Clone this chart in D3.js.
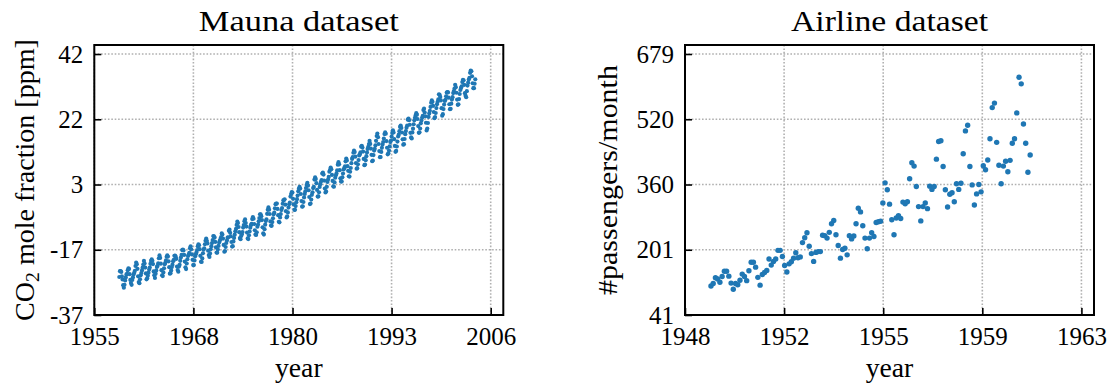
<!DOCTYPE html>
<html>
<head>
<meta charset="utf-8">
<script src="https://cdn.jsdelivr.net/npm/d3@7"></script>
<style>
  html, body { margin: 0; padding: 0; background: #fff; }
  svg text { font-family: "Liberation Serif", "DejaVu Serif", serif; fill: #000; }
</style>
</head>
<body>
<svg id="fig" width="1112" height="387"></svg>
<script>
// ---- Mauna Loa monthly mean CO2 (ppm), March 1958 .. December 2003 ----
const co2StartYear = 1958;
const co2StartMonth = 3;
const co2Monthly = [
  315.70, 317.45, 317.51, 317.24, 315.86, 314.93, 313.20, 312.43, 313.33, 314.67,
  315.58, 316.48, 316.65, 317.72, 318.29, 318.15, 316.54, 314.80, 313.84, 313.33, 314.81, 315.58,
  316.43, 316.98, 317.58, 319.03, 320.04, 319.59, 318.18, 315.90, 314.17, 313.83, 315.00, 316.19,
  316.89, 317.70, 318.54, 319.48, 320.58, 319.77, 318.57, 316.79, 314.99, 315.31, 316.10, 317.01,
  317.94, 318.55, 319.68, 320.57, 321.02, 320.62, 319.61, 317.40, 316.25, 315.42, 316.69, 317.70,
  318.74, 319.07, 319.86, 321.38, 322.25, 321.48, 319.74, 317.77, 316.21, 315.99, 317.07, 318.35,
  319.57, 320.01, 320.74, 321.84, 322.26, 321.89, 320.44, 318.69, 316.70, 316.87, 317.68, 318.71,
  319.44, 320.44, 320.89, 322.14, 322.17, 321.87, 321.21, 318.87, 317.81, 317.30, 318.87, 319.42,
  320.62, 321.59, 322.39, 323.87, 324.01, 323.75, 322.39, 320.37, 318.64, 318.10, 319.79, 321.08,
  322.07, 322.50, 323.04, 324.42, 325.00, 324.09, 322.55, 320.92, 319.31, 319.31, 320.72, 321.96,
  322.57, 323.15, 323.89, 325.02, 325.57, 325.36, 324.14, 322.11, 320.33, 320.25, 321.32, 322.90,
  324.00, 324.42, 325.64, 326.66, 327.38, 326.70, 325.89, 323.67, 322.38, 321.78, 322.85, 324.12,
  325.06, 325.98, 326.93, 328.13, 328.07, 327.66, 326.35, 324.69, 323.10, 323.07, 324.01, 325.13,
  326.17, 326.68, 327.18, 327.78, 328.92, 328.57, 327.37, 325.43, 323.36, 323.56, 324.80, 326.01,
  326.77, 327.63, 327.75, 329.72, 330.07, 329.09, 328.05, 326.32, 324.93, 325.06, 326.50, 327.55,
  328.54, 329.56, 330.30, 331.50, 332.48, 332.07, 330.87, 329.31, 327.51, 327.18, 328.16, 328.64,
  329.35, 330.71, 331.48, 332.65, 333.16, 332.06, 330.99, 329.17, 327.41, 327.20, 328.33, 329.50,
  330.68, 331.41, 331.85, 333.29, 333.91, 333.40, 331.78, 329.88, 328.57, 328.46, 329.26, 330.97,
  331.60, 332.60, 333.57, 334.72, 334.68, 334.17, 332.96, 330.80, 328.98, 328.57, 330.20, 331.58,
  332.67, 333.17, 334.86, 336.07, 336.82, 336.12, 334.81, 332.56, 331.30, 331.22, 332.37, 333.49,
  334.71, 335.23, 336.54, 337.79, 337.95, 338.00, 336.37, 334.47, 332.46, 332.29, 333.76, 334.80,
  336.00, 336.63, 337.93, 338.95, 339.05, 339.27, 337.64, 335.68, 333.77, 334.09, 335.29, 336.76,
  337.77, 338.26, 340.10, 340.88, 341.47, 341.31, 339.41, 337.74, 336.07, 336.07, 337.22, 338.38,
  339.32, 340.41, 341.69, 342.51, 343.02, 342.54, 340.88, 338.75, 337.05, 337.13, 338.45, 339.85,
  340.90, 341.70, 342.70, 343.65, 344.28, 343.42, 342.02, 339.97, 337.84, 338.00, 339.20, 340.63,
  341.41, 342.68, 343.04, 345.27, 345.92, 345.40, 344.16, 342.11, 340.11, 340.15, 341.38, 343.02,
  343.87, 344.59, 345.11, 347.07, 347.38, 346.78, 344.96, 342.55, 341.35, 341.68, 343.06, 344.54,
  345.25, 346.06, 347.66, 348.20, 348.92, 348.40, 346.66, 344.85, 343.20, 343.08, 344.40, 345.82,
  346.54, 347.13, 348.05, 349.77, 350.53, 349.90, 348.11, 345.65, 344.66, 344.70, 345.94, 347.07,
  348.33, 348.73, 349.24, 350.80, 351.66, 351.07, 349.33, 347.92, 346.27, 346.18, 347.64, 348.78,
  350.25, 351.54, 352.05, 353.41, 354.04, 353.62, 352.22, 350.27, 348.55, 348.72, 349.91, 351.18,
  352.60, 352.92, 353.53, 355.26, 355.52, 354.97, 353.75, 351.52, 349.64, 349.83, 351.14, 352.37,
  353.50, 354.55, 355.23, 356.04, 357.00, 356.07, 354.67, 352.76, 350.82, 351.04, 352.69, 354.07,
  354.59, 355.63, 357.03, 358.48, 359.22, 358.12, 356.06, 353.92, 352.05, 352.11, 353.64, 354.89,
  355.88, 356.63, 357.72, 359.07, 359.58, 359.17, 356.94, 354.92, 352.94, 353.23, 354.09, 355.33,
  356.63, 357.10, 358.32, 359.41, 360.23, 359.55, 357.53, 355.48, 353.67, 353.95, 355.30, 356.78,
  358.34, 358.89, 359.95, 361.25, 361.67, 360.94, 359.55, 357.49, 355.84, 356.00, 357.58, 359.04,
  359.97, 361.00, 361.64, 363.45, 363.79, 363.26, 361.90, 359.46, 358.06, 357.75, 359.56, 360.70,
  362.05, 363.25, 364.03, 364.72, 365.41, 364.97, 363.65, 361.49, 359.46, 359.60, 360.76, 362.33,
  363.18, 364.00, 364.57, 366.35, 366.79, 365.62, 364.47, 362.51, 360.19, 360.77, 362.43, 364.28,
  365.33, 366.15, 367.31, 368.61, 369.29, 368.87, 367.64, 365.77, 363.90, 364.23, 365.46, 366.97,
  368.15, 368.87, 369.59, 371.14, 371.00, 370.35, 369.27, 366.94, 364.63, 365.12, 366.67, 368.01,
  369.14, 369.46, 370.52, 371.66, 371.82, 371.70, 370.12, 368.12, 366.62, 366.73, 368.29, 369.53,
  370.28, 371.50, 372.12, 372.87, 374.02, 373.30, 371.62, 369.55, 367.96, 368.09, 369.68, 371.24,
  372.44, 373.08, 373.52, 374.85, 375.55, 375.40, 374.02, 371.49, 370.71, 370.24, 372.08, 373.78,
  374.68, 375.63, 376.11, 377.65, 378.35, 378.13, 376.62, 374.50, 372.99, 373.01, 374.35, 375.70
];

// ---- International airline passengers (thousands per month), Jan 1949 .. Dec 1960 ----
const airlineStartYear = 1949;
const airlinePassengers = [
  112, 118, 132, 129, 121, 135, 148, 148, 136, 119, 104, 118,
  115, 126, 141, 135, 125, 149, 170, 170, 158, 133, 114, 140,
  145, 150, 178, 163, 172, 178, 199, 199, 184, 162, 146, 166,
  171, 180, 193, 181, 183, 218, 230, 242, 209, 191, 172, 194,
  196, 196, 236, 235, 229, 243, 264, 272, 237, 211, 180, 201,
  204, 188, 235, 227, 234, 264, 302, 293, 259, 229, 203, 229,
  242, 233, 267, 269, 270, 315, 364, 347, 312, 274, 237, 278,
  284, 277, 317, 313, 318, 374, 413, 405, 355, 306, 271, 306,
  315, 301, 356, 348, 355, 422, 465, 467, 404, 347, 305, 336,
  340, 318, 362, 348, 363, 435, 491, 505, 404, 359, 310, 337,
  360, 342, 406, 396, 420, 472, 548, 559, 463, 407, 362, 405,
  417, 391, 419, 461, 472, 535, 622, 606, 508, 461, 390, 432
];

// ---- Axis ticks (evenly spaced across each range) and their labels ----
const maunaXTicks = [1954.95, 1967.69, 1980.43, 1993.16, 2005.90];
const maunaXLabels = ["1955", "1968", "1980", "1993", "2006"];
const maunaYTicks = [-37.0, -17.2, 2.6, 22.4, 42.2];
const maunaYLabels = ["-37", "-17", "3", "22", "42"];

const airlineXTicks = [1948.03, 1951.73, 1955.43, 1959.13, 1962.83];
const airlineXLabels = ["1948", "1952", "1955", "1959", "1963"];
const airlineYTicks = [41, 200.5, 360, 519.5, 679];
const airlineYLabels = ["41", "201", "360", "520", "679"];

// ---- Derived point lists ----
const co2Mean = d3.mean(co2Monthly);
const maunaPoints = co2Monthly.map((v, i) => ({
  x: co2StartYear + (co2StartMonth - 1 + i) / 12,
  y: v - co2Mean
}));
const airlinePoints = airlinePassengers.map((v, i) => ({
  x: airlineStartYear + i / 12,
  y: v
}));

// ---- Layout ----
const svg = d3.select("#fig");
const plotTop = 45, plotH = 270, plotW = 409;
const BLUE = "#1f77b4";
const TICK_FONT = 25;

// Stretch a text horizontally (along its own baseline) to a given advance width,
// giving the serif face the wider set of a TeX roman.
function fitWidth(sel, baseTransform, width) {
  const w = sel.node().getComputedTextLength();
  sel.attr("transform", `${baseTransform} scale(${width / w},1)`);
}

function panel(opts) {
  const g = svg.append("g").attr("transform", `translate(${opts.left},${plotTop})`);
  const x = d3.scaleLinear().domain(opts.xDomain).range([0, plotW]);
  const y = d3.scaleLinear().domain(opts.yDomain).range([plotH, 0]);

  // dotted grid at the tick positions
  const grid = g.append("g")
    .attr("stroke", "#b0b0b0").attr("stroke-width", 1.6)
    .attr("stroke-dasharray", "1.6,1.8").attr("fill", "none");
  grid.selectAll("line.gx").data(opts.xTicks).join("line")
    .attr("x1", d => x(d)).attr("x2", d => x(d)).attr("y1", 0).attr("y2", plotH);
  grid.selectAll("line.gy").data(opts.yTicks).join("line")
    .attr("y1", d => y(d)).attr("y2", d => y(d)).attr("x1", 0).attr("x2", plotW);

  // scatter
  g.append("g").attr("fill", BLUE)
    .selectAll("circle").data(opts.points).join("circle")
    .attr("cx", d => x(d.x)).attr("cy", d => y(d.y)).attr("r", opts.r);

  // axes with inward ticks
  const xl = d => opts.xLabels[opts.xTicks.indexOf(d)];
  const yl = d => opts.yLabels[opts.yTicks.indexOf(d)];
  const ax = g.append("g").attr("transform", `translate(0,${plotH})`)
    .call(d3.axisBottom(x).tickValues(opts.xTicks).tickFormat(xl)
      .tickSizeInner(-7).tickSizeOuter(0).tickPadding(12));
  const ay = g.append("g")
    .call(d3.axisLeft(y).tickValues(opts.yTicks).tickFormat(yl)
      .tickSizeInner(-7).tickSizeOuter(0).tickPadding(11));
  [ax, ay].forEach(a => {
    a.select(".domain").remove();
    a.selectAll(".tick line").attr("stroke", "#000").attr("stroke-width", 1.6);
    a.selectAll(".tick text").attr("font-size", TICK_FONT)
      .style("font-family", '"Liberation Serif", "DejaVu Serif", serif');
  });

  // frame
  g.append("rect").attr("x", 0).attr("y", 0).attr("width", plotW).attr("height", plotH)
    .attr("fill", "none").attr("stroke", "#000").attr("stroke-width", 2);

  // title
  const title = g.append("text").attr("text-anchor", "middle")
    .attr("font-size", 30).text(opts.title);
  fitWidth(title, `translate(${plotW / 2},-14.3)`, opts.titleWidth);

  // x label
  const xlab = g.append("text").attr("text-anchor", "middle")
    .attr("font-size", 27).text("year");
  fitWidth(xlab, `translate(${plotW / 2},${plotH + 62.3})`, 47.7);

  // y label
  const ylab = g.append("text").attr("text-anchor", "middle").attr("font-size", 27);
  opts.yLabel(ylab);
  fitWidth(ylab, `translate(${opts.yLabelX},${plotH / 2}) rotate(-90)`, opts.yLabelWidth);
  return g;
}

panel({
  left: 94.3,
  xDomain: [1954.954, 2007.52], yDomain: [-37, 44.94],
  xTicks: maunaXTicks, xLabels: maunaXLabels,
  yTicks: maunaYTicks, yLabels: maunaYLabels,
  points: maunaPoints, r: 2.1,
  title: "Mauna dataset", titleWidth: 200,
  yLabelX: -60.8, yLabelWidth: 282,
  yLabel: t => {
    t.append("tspan").text("CO");
    t.append("tspan").attr("font-size", 19).attr("dy", 5).text("2");
    t.append("tspan").attr("dy", -5).text(" mole fraction [ppm]");
  }
});

panel({
  left: 685,
  xDomain: [1948.03, 1963.30], yDomain: [41, 701],
  xTicks: airlineXTicks, xLabels: airlineXLabels,
  yTicks: airlineYTicks, yLabels: airlineYLabels,
  points: airlinePoints, r: 2.7,
  title: "Airline dataset", titleWidth: 197,
  yLabelX: -68, yLabelWidth: 230,
  yLabel: t => t.text("#passengers/month")
});
</script>
</body>
</html>
